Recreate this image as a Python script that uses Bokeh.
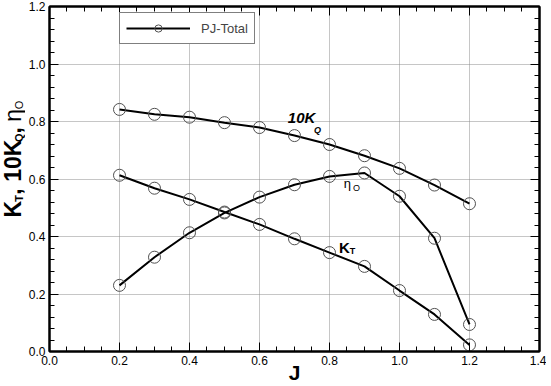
import math
from bokeh.plotting import figure
from bokeh.layouts import row
from bokeh.models import (Range1d, SingleIntervalTicker, LinearAxis, PrintfTickFormatter,
                          Label, Legend, LegendItem, ColumnDataSource, Grid)
from bokeh.embed import file_html
from bokeh.resources import INLINE

# ---- data ----
J = [0.2, 0.3, 0.4, 0.5, 0.6, 0.7, 0.8, 0.9, 1.0, 1.1, 1.2]
KT = [0.613, 0.568, 0.529, 0.485, 0.442, 0.392, 0.344, 0.296, 0.212, 0.129, 0.023]
KQ10 = [0.842, 0.825, 0.815, 0.796, 0.779, 0.751, 0.720, 0.681, 0.637, 0.579, 0.514]
ETA = [0.230, 0.328, 0.413, 0.482, 0.537, 0.580, 0.609, 0.621, 0.540, 0.394, 0.094]
series_name = "PJ-Total"
x_title = "J"

FONT = "Liberation Sans"
EPS = 1e-6
YW = 25          # width of the y-title panel
PW = 521         # width of the plot

p = figure(width=PW, height=386, output_backend="svg", toolbar_location=None,
           x_range=Range1d(0, 1.4 + EPS), y_range=Range1d(0, 1.2 + EPS),
           min_border_left=10, min_border_right=7, min_border_top=6, min_border_bottom=35,
           x_axis_type=None, y_axis_type=None)
p.background_fill_color = "white"
p.border_fill_color = "white"
p.outline_line_color = "black"
p.outline_line_width = 2

xt = SingleIntervalTicker(interval=0.2, num_minor_ticks=4)
yt = SingleIntervalTicker(interval=0.2, num_minor_ticks=5)


def make_axis(ticker, labels):
    ax = LinearAxis(ticker=ticker, formatter=PrintfTickFormatter(format="%.1f"))
    ax.axis_line_color = "black"
    ax.axis_line_width = 2
    ax.major_tick_in = 9
    ax.major_tick_out = 0
    ax.minor_tick_in = 5
    ax.minor_tick_out = 0
    ax.major_tick_line_color = "black"
    ax.minor_tick_line_color = "black"
    if labels:
        ax.major_label_text_font = FONT
        ax.major_label_text_font_size = "12px"
        ax.major_label_text_color = "black"
    else:
        ax.major_label_text_font_size = "0px"
        ax.major_label_standoff = 0
        ax.major_label_text_alpha = 0
    return ax


bottom = make_axis(xt, True)
bottom.major_label_standoff = 4
bottom.axis_label = x_title
bottom.axis_label_text_font = FONT
bottom.axis_label_text_font_size = "21px"
bottom.axis_label_text_font_style = "bold"
bottom.axis_label_text_color = "black"
bottom.axis_label_standoff = -7
left = make_axis(yt, True)
left.major_label_standoff = 4
top = make_axis(xt, False)
right = make_axis(yt, False)
p.add_layout(bottom, "below")
p.add_layout(left, "left")
p.add_layout(top, "above")
p.add_layout(right, "right")

gx = Grid(dimension=0, ticker=xt, grid_line_color="#8c8c8c", grid_line_dash="1 1", grid_line_width=1)
gy = Grid(dimension=1, ticker=yt, grid_line_color="#8c8c8c", grid_line_dash="1 1", grid_line_width=1)
p.add_layout(gx)
p.add_layout(gy)

src = ColumnDataSource(dict(J=J, KT=KT, KQ10=KQ10, ETA=ETA))

rend = {}
for col in ["KQ10", "KT", "ETA"]:
    lr = p.line("J", col, source=src, line_color="black", line_width=2)
    sr = p.scatter("J", col, source=src, marker="circle", size=12,
                   fill_color=None, line_color="#505050", line_width=1)
    rend[col] = (lr, sr)

legend = Legend(items=[LegendItem(label=series_name, renderers=list(rend["KQ10"]))],
                location=(70, 307))
legend.label_text_font = FONT
legend.label_text_font_size = "13px"
legend.glyph_width = 64
legend.glyph_height = 18
legend.label_standoff = 11
legend.padding = 6
legend.margin = 0
legend.spacing = 0
legend.border_line_color = "black"
legend.border_line_width = 1
legend.background_fill_color = "white"
legend.background_fill_alpha = 1
p.add_layout(legend)


def lab(fig, x, y, t, size, bold=False, italic=False, angle=0.0, align="left"):
    style = "normal"
    if bold and italic:
        style = "bold italic"
    elif bold:
        style = "bold"
    elif italic:
        style = "italic"
    fig.add_layout(Label(x=x, y=y, text=t, text_font=FONT, text_font_size=f"{size}px",
                         text_font_style=style, text_baseline="middle", text_align=align,
                         angle=angle, text_color="black"))


# curve labels (data units, vertical centre of the text)
lab(p, 0.681, 0.815, "10K", 15, bold=True, italic=True)
lab(p, 0.756, 0.770, "Q", 9, bold=True, italic=True)
lab(p, 0.841, 0.586, "η", 13)
lab(p, 0.867, 0.569, "O", 9)
lab(p, 0.827, 0.363, "K", 15, bold=True)
lab(p, 0.858, 0.350, "T", 9, bold=True)


def blank(w, h, yr):
    f = figure(width=w, height=h, output_backend="svg", toolbar_location=None,
               x_range=Range1d(0, w), y_range=yr, min_border=0,
               x_axis_type=None, y_axis_type=None)
    f.outline_line_color = None
    f.grid.visible = False
    f.background_fill_color = "white"
    f.border_fill_color = "white"
    return f


# y axis title panel (pixel-like units, y down)
yfig = blank(YW, 386, Range1d(386, 0))
A = math.pi / 2
xb = 12
xs = 18.5
lab(yfig, xb, 236, "K", 23, bold=True, angle=A)
lab(yfig, xs, 218.5, "T", 11, bold=True, angle=A)
lab(yfig, xb, 210.5, ", 10K", 23, bold=True, angle=A)
lab(yfig, xs, 151.5, "Q", 11, bold=True, angle=A)
lab(yfig, xb, 142, ", ", 23, bold=True, angle=A)
lab(yfig, xb, 129, "η", 23, angle=A)
lab(yfig, xs, 115, "O", 11, angle=A)

layout = row(yfig, p, spacing=0)
open("out.html", "w").write(file_html(layout, INLINE))
